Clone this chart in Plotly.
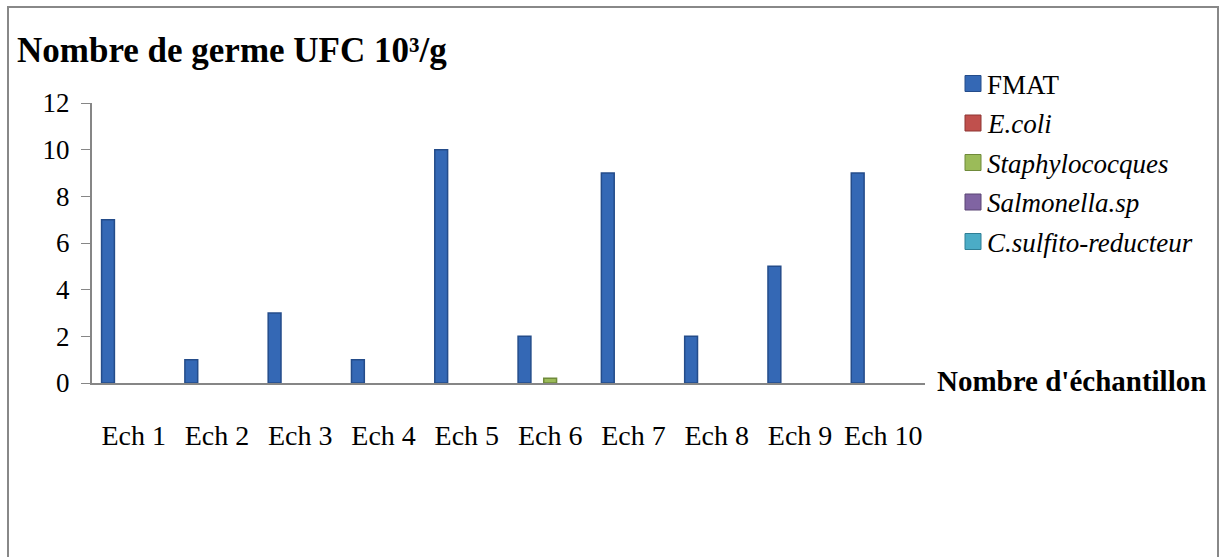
import plotly.graph_objects as go

categories = ["Ech 1", "Ech 2", "Ech 3", "Ech 4", "Ech 5", "Ech 6", "Ech 7", "Ech 8", "Ech 9", "Ech 10"]
fmat = [7, 1, 3, 1, 10, 2, 9, 2, 5, 9]
ecoli = [0, 0, 0, 0, 0, 0, 0, 0, 0, 0]
staph = [0, 0, 0, 0, 0, 0.2, 0, 0, 0, 0]
salmonella = [0, 0, 0, 0, 0, 0, 0, 0, 0, 0]
csulfito = [0, 0, 0, 0, 0, 0, 0, 0, 0, 0]
y_ticks = [0, 2, 4, 6, 8, 10, 12]

series = [
    ("FMAT", fmat, "#3468B5", "#244C8A"),
    ("<i>E.coli</i>", ecoli, "#C0504D", "#8E3532"),
    ("<i>Staphylococques</i>", staph, "#9BBB59", "#6F8A3A"),
    ("<i>Salmonella.sp</i>", salmonella, "#8064A2", "#5A4574"),
    ("<i>C.sulfito-reducteur</i>", csulfito, "#4BACC6", "#2F7F95"),
]

SERIF = "Liberation Serif"

W, H = 1220, 557
L, R, T, B = 92, 925, 103, 383
pw, ph = R - L, B - T

def px(x):
    return (x - L) / pw

def py(y):
    return (B - y) / ph

fig = go.Figure()
shapes = [dict(type="rect", xref="paper", yref="paper",
               x0=px(8), x1=px(1218), y0=py(570), y1=py(7),
               line=dict(color="#888888", width=2), layer="below")]
annotations = [dict(text="<b>Nombre d'échantillon</b>", xref="paper", yref="paper",
                    x=px(935), y=py(381), xanchor="left", yanchor="middle",
                    showarrow=False, font=dict(family=SERIF, size=29))]

for i, (name, vals, col, edge) in enumerate(series):
    fig.add_trace(go.Bar(
        x=categories, y=vals, name=name, showlegend=False,
        marker=dict(color=col,
                    line=dict(color=edge, width=[1.5 if v > 0 else 0 for v in vals])),
    ))
    # manual legend entry
    cy = 83.5 + i * 39.5
    shapes.append(dict(type="rect", xref="paper", yref="paper",
                       x0=px(965), x1=px(981), y0=py(cy + 8), y1=py(cy - 8),
                       fillcolor=col, line=dict(color=edge, width=1)))
    annotations.append(dict(text=name, xref="paper", yref="paper",
                            x=px(985), y=py(cy + 1), xanchor="left", yanchor="middle",
                            showarrow=False, font=dict(family=SERIF, size=27)))

fig.update_layout(
    width=W, height=H,
    margin=dict(l=L, r=W - R, t=T, b=H - B),
    paper_bgcolor="white", plot_bgcolor="white",
    barmode="group", bargap=0.23, bargroupgap=0,
    font=dict(family=SERIF, color="black", size=26),
    showlegend=False,
    title=dict(text="<b>Nombre de germe UFC 10³/g</b>", x=17 / W, xanchor="left",
               y=1 - 50 / H, yanchor="middle", font=dict(family=SERIF, size=35)),
    xaxis=dict(showline=True, linecolor="#868686", linewidth=2, ticks="outside",
               ticklen=26, tickcolor="rgba(0,0,0,0)",
               tickfont=dict(family=SERIF, size=28),
               showgrid=False, zeroline=False),
    yaxis=dict(range=[0, 12], tickvals=y_ticks, showline=True, linecolor="#868686",
               linewidth=2, ticks="outside", ticklen=9, tickcolor="#868686",
               tickfont=dict(family=SERIF, size=27), showgrid=False, zeroline=False,
               ticklabelstandoff=6),
    shapes=shapes,
    annotations=annotations,
)

fig.write_html("out.html")
